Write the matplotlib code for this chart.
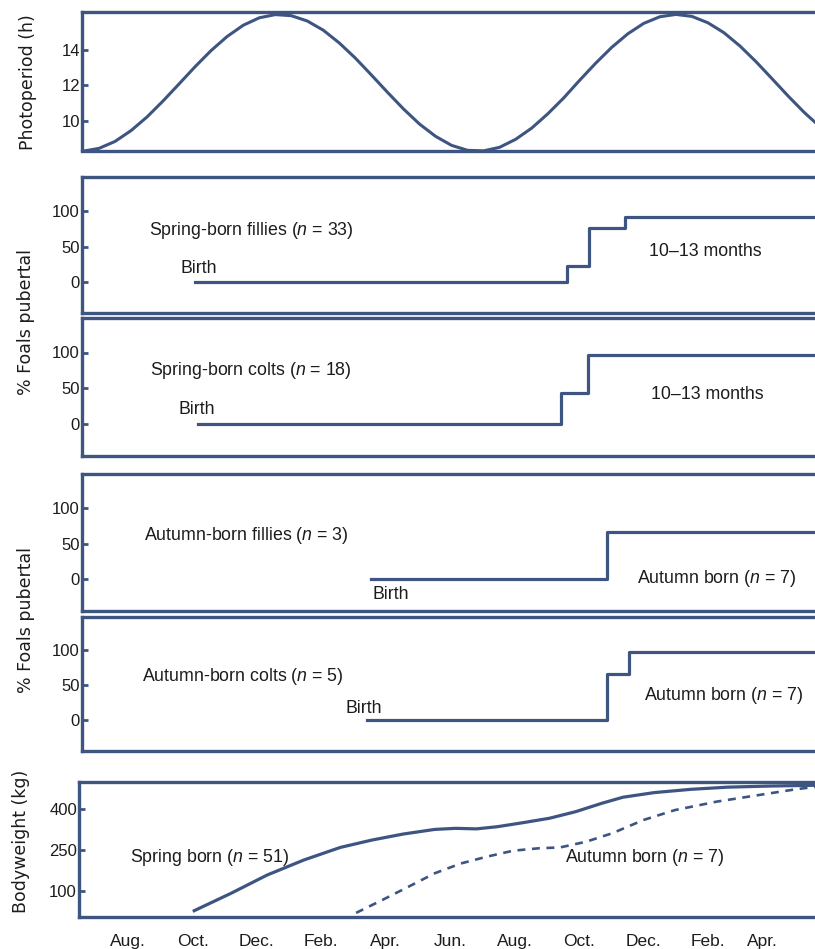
import matplotlib
matplotlib.use('Agg')
import matplotlib.pyplot as plt

# x axis is in months, 0 = first August shown
month_ticks = [0, 2, 4, 6, 8, 10, 12, 14, 16, 18, 19.7]
month_labels = ['Aug.', 'Oct.', 'Dec.', 'Feb.', 'Apr.', 'Jun.', 'Aug.', 'Oct.',
                'Dec.', 'Feb.', 'Apr.']

# photoperiod (h), read every half month
photo_x = [-1.5, -1.0, -0.5, 0.0, 0.5, 1.0, 1.5, 2.0, 2.5, 3.0, 3.5, 4.0, 4.5,
           5.0, 5.5, 6.0, 6.5, 7.0, 7.5, 8.0, 8.5, 9.0, 9.5, 10.0, 10.5, 11.0,
           11.5, 12.0, 12.5, 13.0, 13.5, 14.0, 14.5, 15.0, 15.5, 16.0, 16.5,
           17.0, 17.5, 18.0, 18.5, 19.0, 19.5, 20.0, 20.5, 21.0, 21.5]
photo_h = [8.30, 8.46, 8.85, 9.46, 10.23, 11.13, 12.09, 13.06, 13.97, 14.76,
           15.39, 15.81, 15.99, 15.93, 15.63, 15.11, 14.39, 13.54, 12.59, 11.62,
           10.68, 9.83, 9.14, 8.63, 8.35, 8.32, 8.52, 8.97, 9.60, 10.40, 11.30,
           12.30, 13.26, 14.15, 14.91, 15.50, 15.87, 16.00, 15.89, 15.53, 14.97,
           14.22, 13.34, 12.38, 11.41, 10.49, 9.67]

# % pubertal (step changes)
sp_fillies_x = [2.0, 13.6, 14.3, 15.4, 21.6]
sp_fillies_y = [0, 22, 76, 92, 92]
sp_colts_x = [2.1, 13.4, 14.25, 21.6]
sp_colts_y = [0, 44, 97, 97]
au_fillies_x = [7.5, 14.85, 21.6]
au_fillies_y = [0, 67, 67]
au_colts_x = [7.35, 14.85, 15.55, 21.6]
au_colts_y = [0, 66, 97, 97]

# bodyweight (kg)
bw_spring_x = [2.05, 3.18, 4.32, 5.46, 6.59, 7.57, 8.54, 9.52, 10.17, 10.82,
               11.47, 12.28, 13.09, 13.9, 14.72, 15.37, 16.34, 17.48, 18.62,
               19.91, 21.4]
bw_spring_y = [27, 90, 158, 213, 259, 286, 308, 325, 329, 327, 335, 350, 366,
               390, 421, 443, 460, 472, 480, 484, 487]
bw_autumn_x = [7.08, 7.89, 8.71, 9.52, 10.33, 11.14, 11.96, 12.77, 13.42,
               14.23, 15.04, 16.02, 16.99, 18.29, 19.59, 20.73, 21.4]
bw_autumn_y = [19, 66, 115, 164, 200, 225, 247, 256, 259, 280, 311, 360, 396,
               427, 451, 472, 482]

BLUE = '#3e5582'
TXT = '#1c1c1c'

plt.rcParams['font.family'] = ['Liberation Sans', 'DejaVu Sans']
plt.rcParams['mathtext.fontset'] = 'custom'
plt.rcParams['mathtext.rm'] = 'Liberation Sans'
plt.rcParams['mathtext.it'] = 'Liberation Sans:italic'

W, H = 815, 949
fig = plt.figure(figsize=(W / 100, H / 100), dpi=100)


def make_ax(top, bottom, left=82):
    ax = fig.add_axes([left / W, 1 - bottom / H, 1 - left / W, (bottom - top) / H])
    ax.set_xlim(-1.53, 21.34)
    for s in ['left', 'top', 'bottom']:
        ax.spines[s].set_color(BLUE)
        ax.spines[s].set_linewidth(2.4)
    ax.spines['right'].set_visible(False)
    ax.tick_params(axis='y', direction='in', length=4, width=2, color=BLUE,
                   labelsize=12, labelcolor=TXT, pad=1.5)
    ax.tick_params(axis='x', bottom=False, labelbottom=False)
    return ax


# photoperiod
ax1 = make_ax(12.3, 150.5)
ax1.plot(photo_x, photo_h, color=BLUE, lw=2.2)
ax1.set_ylim(8.34, 16.12)
ax1.set_yticks([10, 12, 14])

# puberty panels
panels = [
    (177.5, 313, sp_fillies_x, sp_fillies_y),
    (318, 456, sp_colts_x, sp_colts_y),
    (474, 610.7, au_fillies_x, au_fillies_y),
    (616.7, 751, au_colts_x, au_colts_y),
]
pub_axes = []
for top, bottom, xs, ys in panels:
    ax = make_ax(top, bottom)
    ax.step(xs, ys, where='post', color=BLUE, lw=2.3)
    ax.set_ylim(-44, 148)
    ax.set_yticks([0, 50, 100])
    pub_axes.append(ax)

a2, a3, a4, a5 = pub_axes
kw = dict(fontsize=12.8, color=TXT, va='center', ha='left')
a2.text(0.56, 73, 'Spring-born fillies ($n$ = 33)', **kw)
a2.text(1.53, 19, 'Birth', **kw)
a2.text(16.16, 43, '10–13 months', **kw)
a3.text(0.59, 75, 'Spring-born colts ($n$ = 18)', **kw)
a3.text(1.47, 21, 'Birth', **kw)
a3.text(16.22, 41, '10–13 months', **kw)
a4.text(0.41, 62, 'Autumn-born fillies ($n$ = 3)', **kw)
a4.text(7.53, -21, 'Birth', **kw)
a4.text(15.78, 1, 'Autumn born ($n$ = 7)', **kw)
a5.text(0.34, 63, 'Autumn-born colts ($n$ = 5)', **kw)
a5.text(6.68, 17, 'Birth', **kw)
a5.text(16.0, 35, 'Autumn born ($n$ = 7)', **kw)

# bodyweight
ax6 = make_ax(781.7, 916.7, left=79)
ax6.plot(bw_spring_x, bw_spring_y, color=BLUE, lw=2.3)
ax6.plot(bw_autumn_x, bw_autumn_y, color=BLUE, lw=1.9, ls=(0, (3, 2.5)))
ax6.set_ylim(5, 500)
ax6.set_yticks([100, 250, 400])
ax6.text(0.06, 222, 'Spring born ($n$ = 51)', **kw)
ax6.text(13.58, 222, 'Autumn born ($n$ = 7)', **kw)
ax6.tick_params(axis='x', bottom=False, labelbottom=True, labelsize=12.5,
                labelcolor=TXT, pad=9)
ax6.set_xticks(month_ticks)
ax6.set_xticklabels(month_labels)

# y labels
lab = dict(rotation=90, ha='center', va='center', fontsize=12.5, color=TXT,
           family=['DejaVu Sans'])
fig.text(28 / W, 1 - 82 / H, 'Photoperiod (h)', **lab)
fig.text(26 / W, 1 - 322 / H, '% Foals pubertal', **lab)
fig.text(26 / W, 1 - 620 / H, '% Foals pubertal', **lab)
fig.text(21 / W, 1 - 841 / H, 'Bodyweight (kg)', **lab)

fig.savefig('out.png', dpi=100)
